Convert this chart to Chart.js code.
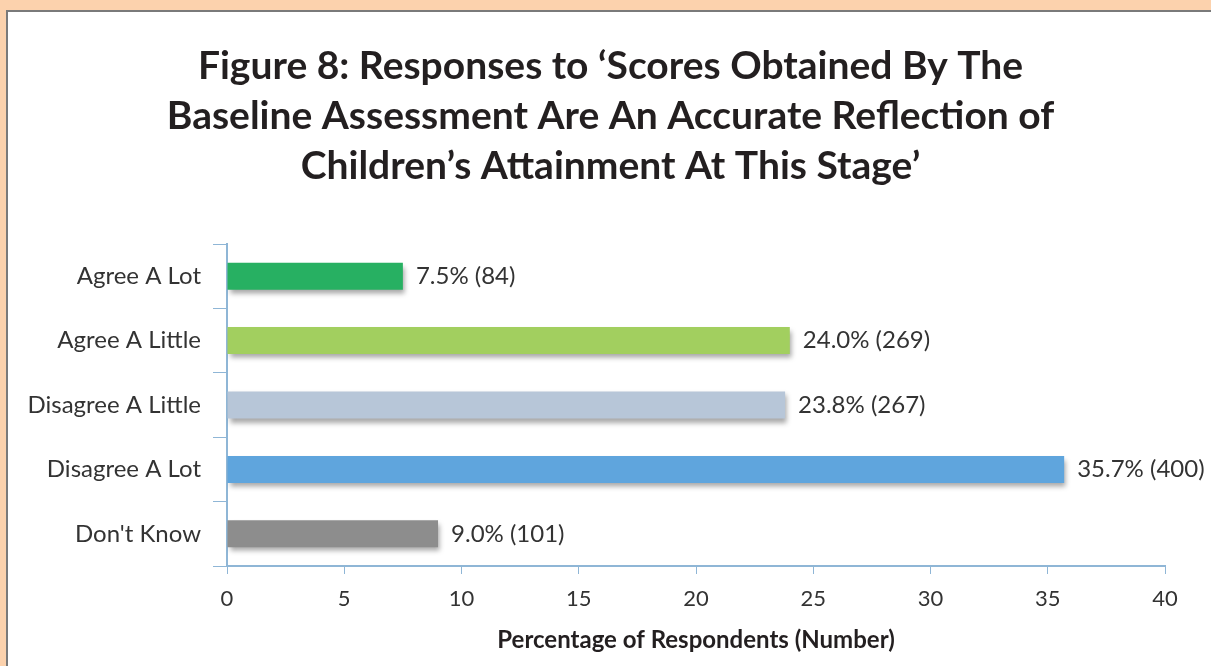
<!DOCTYPE html>
<html lang="en">
<head>
  <meta charset="UTF-8">
  <title>Figure 8</title>
  <script src="https://cdn.jsdelivr.net/npm/chart.js"></script>
  <style>
    body { margin: 0; width: 1211px; height: 666px; overflow: hidden; background: #fcd2ad; position: relative; }
    #panel { position: absolute; left: 6px; top: 10px; width: 1220px; height: 680px; background: #fff; border-left: 2px solid #7a7a7a; border-top: 2px solid #7a7a7a; }
    #chart { position: absolute; left: 0; top: 0; }
  </style>
</head>
<body>
  <div id="panel"></div>
  <canvas id="chart" width="1211" height="666"></canvas>

  <script>
    const categories = ['Agree A Lot', 'Agree A Little', 'Disagree A Little', 'Disagree A Lot', "Don't Know"];
    const percentages = [7.5, 24.0, 23.8, 35.7, 9.0];
    const counts = [84, 269, 267, 400, 101];
    const barColors = ['#27b062', '#a2cf5f', '#b7c6d8', '#5fa5dd', '#8d8d8d'];
    const xTicks = [0, 5, 10, 15, 20, 25, 30, 35, 40];

    const axisBlue = '#8fb6d6';
    const fontFamily = 'Lato, "Open Sans", sans-serif';

    // soft drop shadow under the bars
    const barShadow = {
      id: 'barShadow',
      beforeDatasetsDraw(chart) {
        const ctx = chart.ctx;
        ctx.save();
        ctx.shadowColor = 'rgba(0,0,0,0.35)';
        ctx.shadowBlur = 5;
        ctx.shadowOffsetX = 2;
        ctx.shadowOffsetY = 4;
      },
      afterDatasetsDraw(chart) {
        chart.ctx.restore();
      }
    };

    // title in the original sits a bit right of the plot centre
    const titleShift = {
      id: 'titleShift',
      afterLayout(chart) {
        chart.titleBlock.left += 28;
        chart.titleBlock.right += 28;
      }
    };

    // "7.5% (84)" style labels at the end of each bar
    const barLabels = {
      id: 'barLabels',
      afterDraw(chart) {
        const ctx = chart.ctx;
        const meta = chart.getDatasetMeta(0);
        ctx.save();
        ctx.font = '24px ' + fontFamily;
        ctx.fillStyle = '#333';
        ctx.textAlign = 'left';
        ctx.textBaseline = 'middle';
        meta.data.forEach((bar, i) => {
          const txt = percentages[i].toFixed(1) + '% (' + counts[i] + ')';
          ctx.fillText(txt, bar.x + 13, bar.y);
        });
        ctx.restore();
      }
    };

    new Chart(document.getElementById('chart'), {
      type: 'bar',
      data: {
        labels: categories,
        datasets: [{
          data: percentages,
          backgroundColor: barColors,
          borderWidth: 0,
          categoryPercentage: 1,
          barPercentage: 0.42
        }]
      },
      options: {
        indexAxis: 'y',
        responsive: false,
        animation: false,
        layout: { padding: { left: 0, right: 46, top: 0, bottom: 0 } },
        plugins: {
          legend: { display: false },
          tooltip: { enabled: false },
          title: {
            display: true,
            text: ['Figure 8: Responses to \u2018Scores Obtained By The',
                   'Baseline Assessment Are An Accurate Reflection of',
                   'Children\u2019s Attainment At This Stage\u2019'],
            color: '#231f20',
            font: { family: fontFamily, size: 39, weight: 'bold', lineHeight: 50 / 39 },
            padding: { top: 41, bottom: 53 }
          }
        },
        scales: {
          x: {
            min: 0,
            max: 40,
            afterBuildTicks(scale) { scale.ticks = xTicks.map(v => ({ value: v })); },
            afterFit(scale) { scale.height = 100; },
            grid: { drawOnChartArea: false, tickLength: 8, tickColor: axisBlue },
            border: { color: axisBlue, width: 2 },
            ticks: { color: '#333', padding: 12, font: { family: fontFamily, size: 22 } },
            title: {
              display: true,
              text: 'Percentage of Respondents (Number)',
              color: '#231f20',
              font: { family: fontFamily, size: 24, weight: 'bold' },
              padding: { top: 0, bottom: 11 }
            }
          },
          y: {
            afterFit(scale) { scale.width = 227; },
            grid: { drawOnChartArea: false, tickLength: 14, tickColor: axisBlue, offset: true },
            border: { color: axisBlue, width: 2 },
            ticks: { color: '#333', padding: 12, font: { family: fontFamily, size: 24 } }
          }
        }
      },
      plugins: [barShadow, titleShift, barLabels]
    });
  </script>
</body>
</html>
